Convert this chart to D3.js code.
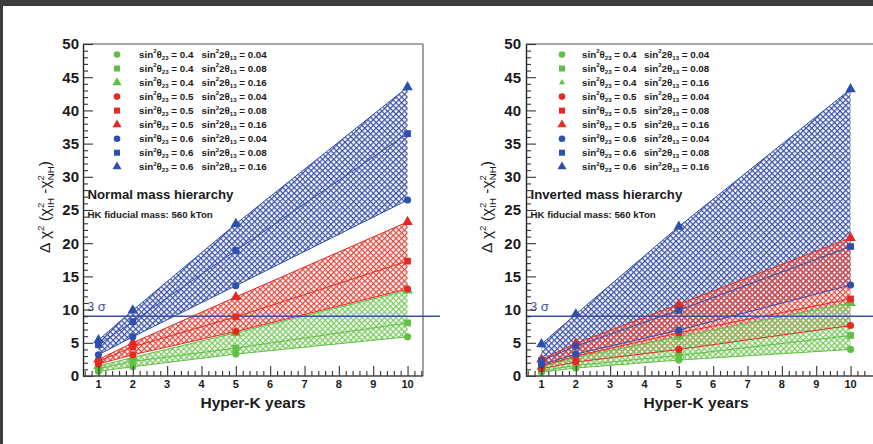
<!DOCTYPE html>
<html><head><meta charset="utf-8">
<script src="https://cdn.jsdelivr.net/npm/d3@7"></script>
<style>
body{margin:0;background:#fff}
svg{display:block}
text{font-family:"Liberation Sans",Arial,Helvetica,sans-serif}
</style>
</head><body>
<svg id="c" width="873" height="444"></svg>
<script>
// ---------------- DATA ----------------
const years = [1, 2, 5, 10];
const yMajorTicks = [0, 5, 10, 15, 20, 25, 30, 35, 40, 45, 50];
const xMajorTicks = [1, 2, 3, 4, 5, 6, 7, 8, 9, 10];
const sigmaLevel = 9;
const sigmaLabel = "3 σ";
const xLabel = "Hyper-K years";
const titles = ["Normal mass hierarchy", "Inverted mass hierarchy"];
const subTitle = "HK fiducial mass: 560 kTon";

const theta23 = ["0.4", "0.4", "0.4", "0.5", "0.5", "0.5", "0.6", "0.6", "0.6"];
const theta13 = ["0.04", "0.08", "0.16", "0.04", "0.08", "0.16", "0.04", "0.08", "0.16"];
const seriesColor = ["g", "g", "g", "r", "r", "r", "b", "b", "b"];
const seriesShape = ["circle", "square", "triangle", "circle", "square", "triangle", "circle", "square", "triangle"];

// Normal hierarchy
const nhG04 = [0.7, 1.4, 3.3, 5.9];
const nhG08 = [1.1, 2.2, 4.2, 8.0];
const nhG16 = [1.5, 2.8, 6.5, 12.9];
const nhR04 = [1.8, 3.2, 6.7, 13.1];
const nhR08 = [2.2, 4.4, 8.9, 17.3];
const nhR16 = [2.5, 5.0, 11.9, 23.2];
const nhB04 = [3.2, 5.9, 13.6, 26.5];
const nhB08 = [4.7, 8.2, 18.9, 36.5];
const nhB16 = [5.4, 9.9, 22.9, 43.5];

// Inverted hierarchy
const ihG04 = [0.6, 1.2, 2.4, 4.0];
const ihG08 = [0.8, 1.6, 3.1, 6.1];
const ihG16 = [1.4, 2.8, 5.9, 11.0];
const ihR04 = [1.1, 2.1, 4.0, 7.6];
const ihR08 = [1.5, 3.0, 6.5, 11.6];
const ihR16 = [2.5, 4.9, 10.8, 20.8];
const ihB04 = [1.7, 3.3, 6.9, 13.7];
const ihB08 = [2.3, 4.5, 9.9, 19.5];
const ihB16 = [4.8, 9.3, 22.5, 43.2];

const nhSeries = [nhG04, nhG08, nhG16, nhR04, nhR08, nhR16, nhB04, nhB08, nhB16];
const ihSeries = [ihG04, ihG08, ihG16, ihR04, ihR08, ihR16, ihB04, ihB08, ihB16];

// ---------------- STYLE ----------------
const markColor = {g: "#5fc043", r: "#e42a22", b: "#2d4fae"};
const hatchColor = {g: "#79c95e", r: "#e3473c", b: "#3a50a6"};

const svg = d3.select("#c");
svg.append("rect").attr("width", 873).attr("height", 444).attr("fill", "#fff");
svg.append("rect").attr("x", 0).attr("y", 0).attr("width", 873).attr("height", 6).attr("fill", "#3c3c3c");
svg.append("rect").attr("x", 0).attr("y", 0).attr("width", 3).attr("height", 444).attr("fill", "#3c3c3c");

const defs = svg.append("defs");
function hatch(id, color, s, w) {
  const p = defs.append("pattern").attr("id", id)
    .attr("patternUnits", "userSpaceOnUse")
    .attr("width", s).attr("height", s)
    .attr("patternTransform", "rotate(45)");
  p.append("rect").attr("width", s).attr("height", w).attr("fill", color);
  p.append("rect").attr("width", w).attr("height", s).attr("fill", color);
}
hatch("hb", hatchColor.b, 4.0, 1.25);
hatch("hr", hatchColor.r, 4.0, 1.25);
hatch("hg", hatchColor.g, 4.0, 1.25);

function symbolPath(shape, size) {
  const t = shape === "circle" ? d3.symbolCircle : shape === "square" ? d3.symbolSquare : d3.symbolTriangle;
  return d3.symbol().type(t).size(size)();
}
const plotSize = {circle: 40, square: 46, triangle: 48};
const legSize = {circle: 34, square: 36, triangle: 36};

// rich text helper: parts [{t, m:'sup'|'sub'|undefined, back:px}]
function rich(textSel, parts, base) {
  let cur = 0;
  parts.forEach(p => {
    const target = p.m === "sup" ? -0.42 * base : p.m === "sub" ? 0.28 * base : 0;
    const ts = textSel.append("tspan").text(p.t).attr("dy", target - cur);
    if (p.back) ts.attr("dx", -p.back);
    if (p.m) ts.attr("font-size", base * 0.62);
    cur = target;
  });
}

const panels = [
  {data: nhSeries, xr: [83, 423], frameRight: 423, lineEnd: 440, axisEnd: 423, ylabX: 50, tickLabX: 79,
   legM: 117, legT1: 139, legT2: 201.5, titleX: 87.5, title: titles[0], smallTri: false},
  {data: ihSeries, xr: [526, 866], frameRight: null, lineEnd: 873, axisEnd: 873, ylabX: 492, tickLabX: 521,
   legM: 562, legT1: 582, legT2: 644, titleX: 530.5, title: titles[1], smallTri: true}
];

panels.forEach(P => {
  const g = svg.append("g");
  const x = d3.scaleLinear().domain([0.55, 10.45]).range(P.xr);
  const y = d3.scaleLinear().domain([0, 50]).range([376, 44]);

  // bands: lower = circle series, upper = triangle series; order blue, red, green
  const area = d3.area().x((d, i) => x(years[i])).y0(d => y(d[0])).y1(d => y(d[1]));
  [["b", 6], ["r", 3], ["g", 0]].forEach(([c, k]) => {
    const lo = P.data[k], hi = P.data[k + 2];
    const pts = lo.map((v, i) => [v, hi[i]]);
    g.append("path").attr("d", area(pts)).attr("fill", "url(#h" + c + ")");
  });

  // series lines
  const line = d3.line().x((d, i) => x(years[i])).y(d => y(d));
  P.data.forEach((s, k) => {
    g.append("path").attr("d", line(s)).attr("fill", "none")
      .attr("stroke", markColor[seriesColor[k]]).attr("stroke-width", 1);
  });

  // frame
  g.append("line").attr("x1", P.xr[0]).attr("x2", P.frameRight || 873).attr("y1", 44).attr("y2", 44)
    .attr("stroke", "#8a8a8a").attr("stroke-width", 1.6);
  if (P.frameRight) {
    g.append("line").attr("x1", P.frameRight).attr("x2", P.frameRight).attr("y1", 44).attr("y2", 376)
      .attr("stroke", "#8a8a8a").attr("stroke-width", 1.6);
  }

  // 3 sigma line
  g.append("line").attr("x1", P.xr[0]).attr("x2", P.lineEnd).attr("y1", y(sigmaLevel)).attr("y2", y(sigmaLevel))
    .attr("stroke", "#3a4fa8").attr("stroke-width", 1.4);
  g.append("text").attr("x", P.xr[0] + 4).attr("y", y(sigmaLevel) - 5.5)
    .attr("font-size", 13).attr("fill", "#3a4fa8").text(sigmaLabel);

  // markers
  P.data.forEach((s, k) => {
    s.forEach((v, i) => {
      g.append("path").attr("d", symbolPath(seriesShape[k], plotSize[seriesShape[k]]))
        .attr("transform", `translate(${x(years[i])},${y(v)})`)
        .attr("fill", markColor[seriesColor[k]]);
    });
  });

  // y axis
  const yMinor = d3.range(0, 51, 1).filter(v => v % 5 !== 0);
  const yAx = g.append("g").attr("transform", `translate(${P.xr[0]},0)`)
    .call(d3.axisLeft(y).tickValues(yMajorTicks).tickSize(-10).tickSizeOuter(0).tickFormat(""));
  g.append("g").attr("transform", `translate(${P.xr[0]},0)`)
    .call(d3.axisLeft(y).tickValues(yMinor).tickSize(-5).tickSizeOuter(0).tickFormat(""))
    .select(".domain").remove();
  g.selectAll(".tick line").attr("stroke", "#333").attr("stroke-width", 1.1);
  yAx.select(".domain").attr("stroke", "#222").attr("stroke-width", 1.4);
  yMajorTicks.forEach(v => {
    g.append("text").attr("x", P.tickLabX).attr("y", y(v)).attr("dy", "0.36em")
      .attr("text-anchor", "end").attr("font-size", 15).attr("font-weight", "bold")
      .attr("fill", "#1a1a1a").text(v);
  });

  // x axis
  const xMinor = d3.range(0.6, 10.45, 0.2).map(v => Math.round(v * 10) / 10)
    .filter(v => Math.abs(v - Math.round(v)) > 0.01);
  const xg = g.append("g").attr("transform", "translate(0,376)");
  xg.call(d3.axisBottom(x).tickValues(xMajorTicks).tickSize(-10).tickSizeOuter(0).tickFormat(""));
  xg.select(".domain").remove();
  const xm = g.append("g").attr("transform", "translate(0,376)");
  xm.call(d3.axisBottom(x).tickValues(xMinor).tickSize(-5).tickSizeOuter(0).tickFormat(""));
  xm.select(".domain").remove();
  g.selectAll(".tick line").attr("stroke", "#333").attr("stroke-width", 1.1);
  g.append("line").attr("x1", P.xr[0]).attr("x2", P.axisEnd).attr("y1", 376).attr("y2", 376)
    .attr("stroke", "#444").attr("stroke-width", 1.4);
  xMajorTicks.forEach(v => {
    g.append("text").attr("x", x(v)).attr("y", 387.5).attr("text-anchor", "middle")
      .attr("font-size", 11).attr("font-weight", "bold").attr("fill", "#1a1a1a").text(v);
  });
  g.append("text").attr("x", (P.xr[0] + P.xr[1]) / 2).attr("y", 407.5).attr("text-anchor", "middle")
    .attr("font-size", 15.5).attr("font-weight", "bold").attr("fill", "#1a1a1a").text(xLabel);

  // y label
  const yl = g.append("text").attr("transform", `translate(${P.ylabX},207) rotate(-90)`)
    .attr("text-anchor", "middle").attr("font-size", 15.5).attr("fill", "#1a1a1a");
  rich(yl, [
    {t: "Δ χ"}, {t: "2", m: "sup"}, {t: " (χ"}, {t: "2", m: "sup"}, {t: "IH", m: "sub", back: 5},
    {t: " -χ"}, {t: "2", m: "sup"}, {t: "NH", m: "sub", back: 5}, {t: ")"}
  ], 15.5);

  // legend
  theta23.forEach((t, k) => {
    const ly = 54.5 + k * 14.03;
    let sz = legSize[seriesShape[k]];
    if (P.smallTri && k === 2) sz = 16;
    g.append("path").attr("d", symbolPath(seriesShape[k], sz))
      .attr("transform", `translate(${P.legM},${ly})`).attr("fill", markColor[seriesColor[k]]);
    const t1 = g.append("text").attr("x", P.legT1).attr("y", ly + 3).attr("font-size", 9.8)
      .attr("font-weight", "bold").attr("fill", "#1a1a1a");
    rich(t1, [{t: "sin"}, {t: "2", m: "sup"}, {t: "θ"}, {t: "23", m: "sub"}, {t: " = " + t}], 9.8);
    const t2 = g.append("text").attr("x", P.legT2).attr("y", ly + 3).attr("font-size", 9.8)
      .attr("font-weight", "bold").attr("fill", "#1a1a1a");
    rich(t2, [{t: "sin"}, {t: "2", m: "sup"}, {t: "2θ"}, {t: "13", m: "sub"}, {t: " = " + theta13[k]}], 9.8);
  });

  // titles
  g.append("text").attr("x", P.titleX).attr("y", 199).attr("font-size", 13.2).attr("font-weight", "bold")
    .attr("fill", "#1a1a1a").text(P.title);
  g.append("text").attr("x", P.titleX).attr("y", 217.5).attr("font-size", 9.7).attr("font-weight", "bold")
    .attr("fill", "#1a1a1a").text(subTitle);
});
</script>
</body></html>
